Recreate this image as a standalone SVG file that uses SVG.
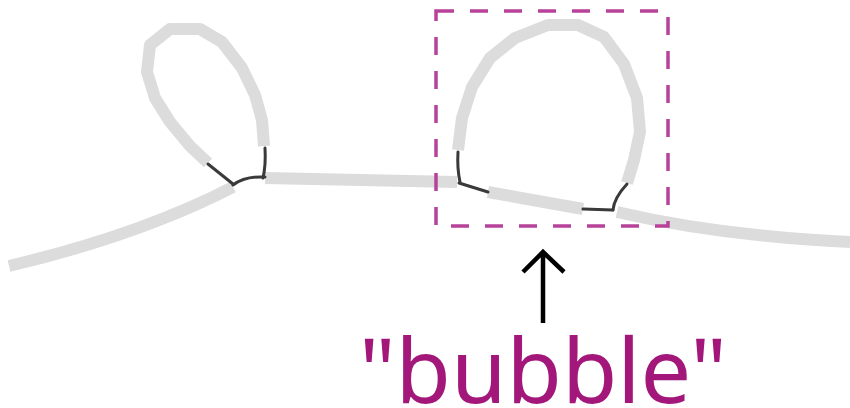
<svg xmlns="http://www.w3.org/2000/svg" width="850" height="408" viewBox="0 0 850 408">
<style>
.g{fill:none;stroke:#dcdcdc;stroke-width:12;stroke-linejoin:round}
.k{fill:none;stroke:#3a3a3a;stroke-width:3;stroke-linecap:round}
.box{fill:none;stroke:#b8419a;stroke-width:3.5;stroke-dasharray:18 16}
.lbl{font-family:"Noto Sans","Open Sans",sans-serif;font-size:90px;fill:#a3177a}
</style>
<rect width="850" height="408" fill="#fff"/>
<g id="strand">
<path class="g" d="M9,266 Q140,235 233,187"/>
<path class="g" d="M265,178 L457,182"/>
<path class="g" d="M488,192 L583,209"/>
<path class="g" d="M617,212 Q720,236 850,242"/>
</g>
<g id="loop-left">
<path class="g" d="M208,163 L190,146 L170,122 L155,98 L147,72 L150,45 L170,29 L200,29 L222,42 L242,68 L255,95 L262,120 L264,146"/>
</g>
<g id="bubble">
<path class="g" d="M458,150 L462,118 L472,87 L490,58 L515,38 L548,25 L578,25 L604,37 L624,64 L637,98 L640,132 L634,160 L627,183"/>
</g>
<g id="connectors">
<path class="k" d="M208,164 L233,184"/>
<path class="k" d="M233,185 Q245,176 265,177"/>
<path class="k" d="M265,148 Q266,165 263,178"/>
<path class="k" d="M458,152 Q457,168 460,182"/>
<path class="k" d="M459,183 L488,192"/>
<path class="k" d="M583,209 L613,210"/>
<path class="k" d="M627,184 Q614,198 613,210"/>
</g>
<g id="highlight">
<rect class="box" x="436" y="11" width="232" height="215"/>
</g>
<g id="label">
<path d="M543,323 L543,252 M523,272 L543,252 L564,272" fill="none" stroke="#000" stroke-width="4.5"/>
<text class="lbl" x="543" y="403" text-anchor="middle">"bubble"</text>
</g>
</svg>
